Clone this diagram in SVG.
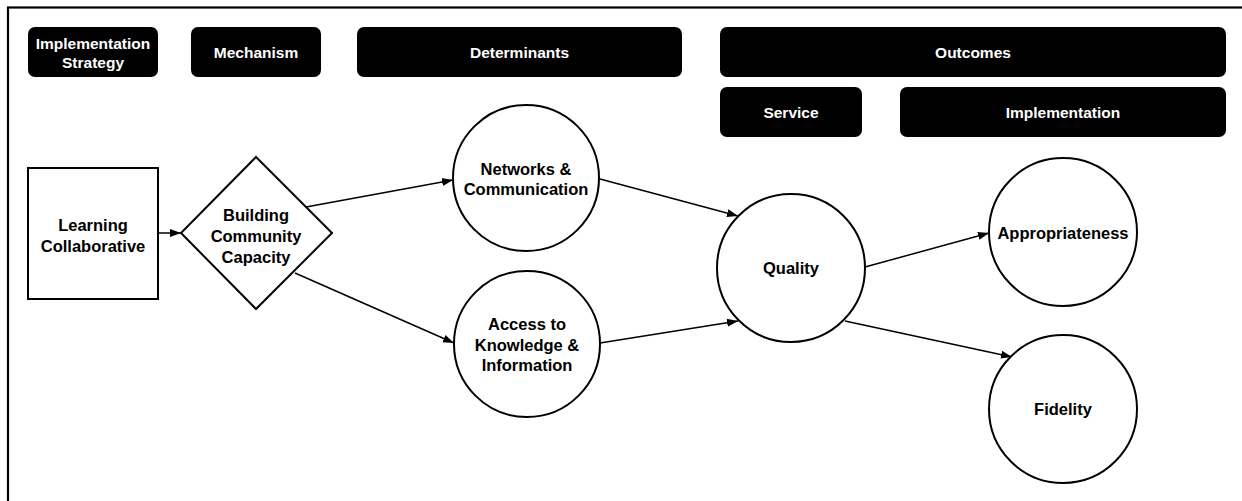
<svg xmlns="http://www.w3.org/2000/svg" width="1242" height="501" viewBox="0 0 1242 501">
<style>
.hdr{fill:#000;}
.htxt{fill:#fff;font-family:"Liberation Sans",Arial,sans-serif;font-weight:bold;font-size:15.5px;text-anchor:middle;}
.shape{fill:#fff;stroke:#000;stroke-width:2;}
.ntxt{fill:#000;font-family:"Liberation Sans",Arial,sans-serif;font-weight:bold;font-size:16.5px;text-anchor:middle;}
.edge{stroke:#000;stroke-width:1.5;fill:none;marker-end:url(#arr);}
</style>
<defs>
<marker id="arr" markerUnits="userSpaceOnUse" markerWidth="12" markerHeight="10" refX="11" refY="5" orient="auto">
<path d="M0,1 L11,5 L0,9 Z" fill="#000"/>
</marker>
</defs>
<rect x="0" y="0" width="1242" height="501" fill="#fff"/>
<rect x="8" y="7.5" width="1250" height="510" fill="none" stroke="#000" stroke-width="2.2"/>

<g id="hdr-strategy"><rect class="hdr" x="28" y="27" width="130" height="50" rx="7"/><text class="htxt" x="93" y="49">Implementation</text><text class="htxt" x="93" y="68">Strategy</text></g>
<g id="hdr-mechanism"><rect class="hdr" x="191" y="27" width="130" height="50" rx="7"/><text class="htxt" x="256" y="58">Mechanism</text></g>
<g id="hdr-determinants"><rect class="hdr" x="357" y="27" width="325" height="50" rx="7"/><text class="htxt" x="519.5" y="58">Determinants</text></g>
<g id="hdr-outcomes"><rect class="hdr" x="720" y="27" width="506" height="50" rx="7"/><text class="htxt" x="973" y="58">Outcomes</text></g>
<g id="hdr-service"><rect class="hdr" x="720" y="87" width="142" height="50" rx="7"/><text class="htxt" x="791" y="118">Service</text></g>
<g id="hdr-implementation"><rect class="hdr" x="900" y="87" width="326" height="50" rx="7"/><text class="htxt" x="1063" y="118">Implementation</text></g>

<g id="connectors">
<line class="edge" x1="158" y1="233" x2="181" y2="233"/>
<line class="edge" x1="306" y1="207" x2="453" y2="180"/>
<line class="edge" x1="295" y1="273" x2="454" y2="343"/>
<line class="edge" x1="600" y1="179" x2="738" y2="216"/>
<line class="edge" x1="600" y1="343" x2="738" y2="321"/>
<line class="edge" x1="865" y1="267" x2="989" y2="233"/>
<line class="edge" x1="845" y1="321" x2="1012" y2="357"/>
</g>

<g id="n-learning"><rect class="shape" x="28" y="168" width="130" height="131"/><text class="ntxt" x="93" y="231">Learning</text><text class="ntxt" x="93" y="252">Collaborative</text></g>
<g id="n-building"><polygon class="shape" points="256,157 332,233 256,309 181,233"/><text class="ntxt" x="256" y="221">Building</text><text class="ntxt" x="256" y="242">Community</text><text class="ntxt" x="256" y="263">Capacity</text></g>
<g id="n-networks"><circle class="shape" cx="526" cy="178" r="73"/><text class="ntxt" x="526" y="175">Networks &amp;</text><text class="ntxt" x="526" y="195">Communication</text></g>
<g id="n-access"><circle class="shape" cx="527" cy="344" r="73"/><text class="ntxt" x="527" y="330">Access to</text><text class="ntxt" x="527" y="351">Knowledge &amp;</text><text class="ntxt" x="527" y="371">Information</text></g>
<g id="n-quality"><circle class="shape" cx="791" cy="268" r="74"/><text class="ntxt" x="791" y="274">Quality</text></g>
<g id="n-appropriateness"><circle class="shape" cx="1063" cy="232" r="74"/><text class="ntxt" x="1063" y="239">Appropriateness</text></g>
<g id="n-fidelity"><circle class="shape" cx="1063" cy="409" r="74"/><text class="ntxt" x="1063" y="415">Fidelity</text></g>
</svg>
